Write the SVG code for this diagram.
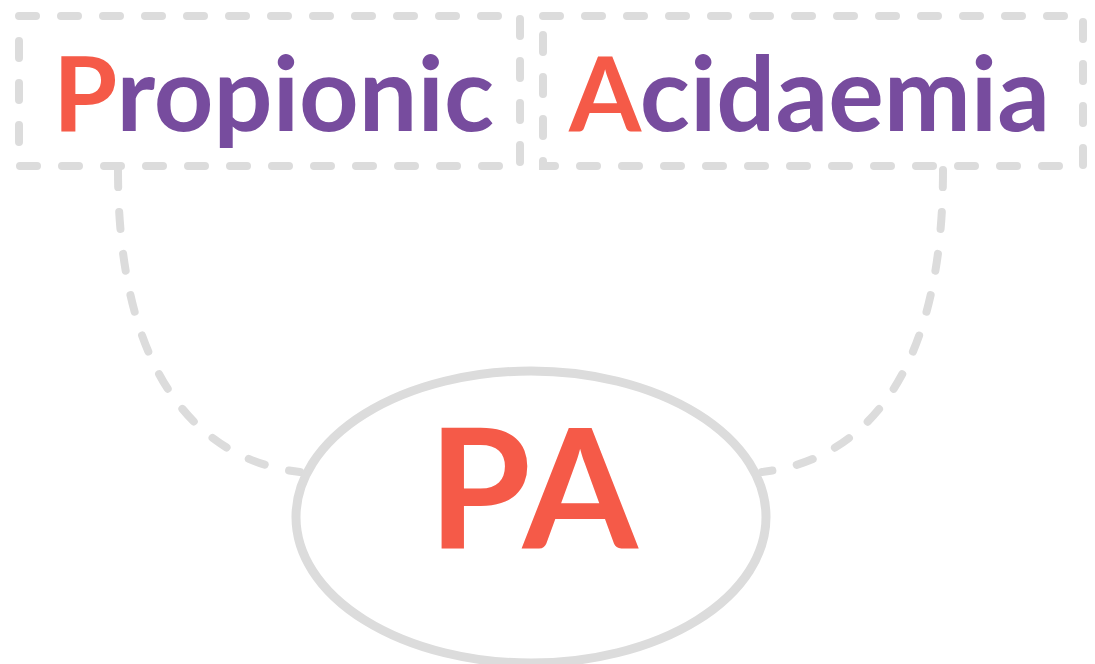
<svg xmlns="http://www.w3.org/2000/svg" width="1095" height="664" viewBox="0 0 1095 664">
<style>
.box{fill:none;stroke:#dcdcdc;stroke-width:8;stroke-dasharray:17 25;stroke-linecap:round}
.conn{fill:none;stroke:#dcdcdc;stroke-width:8;stroke-dasharray:17 25;stroke-linecap:round}
.t{font-family:Lato,"Liberation Sans",sans-serif;font-weight:bold}
.red{fill:#f55a48}
.pur{fill:#774c9e}
</style>
<rect width="1095" height="664" fill="#ffffff"/>
<g id="connectors">
<path class="conn" d="M118,170 C118,390 210,462 300,472"/>
<path class="conn" d="M943,170 C943,390 852,462 762,472"/>
</g>
<g id="node-propionic">
<rect class="box" x="19" y="16" width="501" height="150"/>
<text class="t" x="53" y="131" font-size="104"><tspan class="red">P</tspan><tspan class="pur">ropionic</tspan></text>
</g>
<g id="node-acidaemia">
<rect class="box" x="543" y="16" width="540" height="150"/>
<text class="t" x="569" y="131" font-size="104"><tspan class="red">A</tspan><tspan class="pur">cidaemia</tspan></text>
</g>
<g id="node-pa">
<ellipse cx="531" cy="517" rx="235" ry="146" fill="#ffffff" stroke="#dcdcdc" stroke-width="9"/>
<text class="t red" x="533" y="549" font-size="166" text-anchor="middle">PA</text>
</g>
</svg>
